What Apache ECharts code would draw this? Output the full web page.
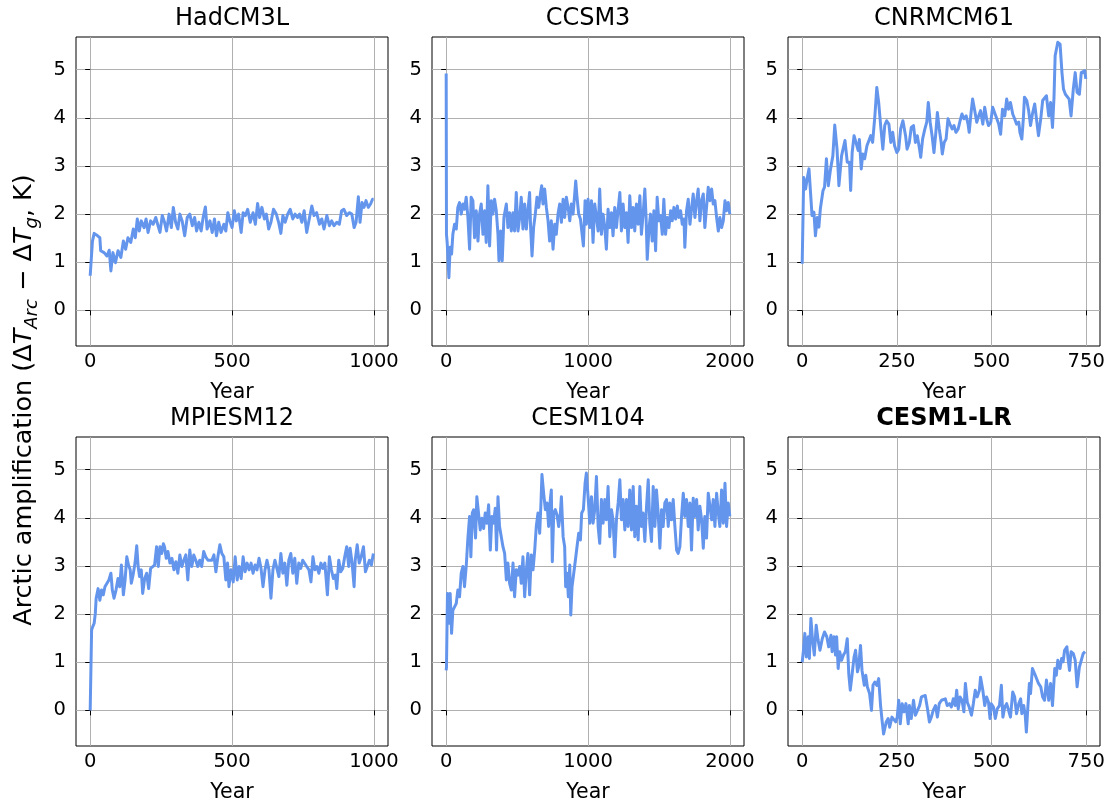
<!DOCTYPE html>
<html>
<head>
<meta charset="utf-8">
<script src="https://cdn.jsdelivr.net/npm/echarts@6/dist/echarts.min.js"></script>
<style>
html,body{margin:0;padding:0;background:#fff;}
#chart{width:1113px;height:805px;}
</style>
</head>
<body>
<div id="chart"></div>
<script>
// ---------- data (year, Arctic amplification) ----------
const modelNames = ['HadCM3L', 'CCSM3', 'CNRMCM61', 'MPIESM12', 'CESM104', 'CESM1-LR'];
const yTicks = [0, 1, 2, 3, 4, 5];
const xTicks1000 = [0, 500, 1000];
const xTicks2000 = [0, 1000, 2000];
const xTicks750 = [0, 250, 500, 750];

const hadcm3l = [[0,0.72],[8,1.44],[14,1.6],[26,1.55],[34,1.51],[37,1.24],[49,1.2],[59,1.13],[67,1.25],[73,0.82],[80,1.2],[89,0.99],[98,1.24],[108,1.1],[117,1.44],[125,1.27],[133,1.51],[143,1.41],[152,1.69],[159,1.51],[166,1.9],[173,1.65],[180,1.86],[190,1.72],[197,1.9],[204,1.62],[213,1.86],[222,1.79],[231,1.93],[239,1.76],[246,1.62],[254,1.97],[262,1.83],[269,1.65],[278,2.0],[286,1.72],[293,2.14],[301,1.83],[309,1.69],[316,2.0],[324,1.86],[333,1.55],[342,1.93],[351,2.0],[360,1.76],[368,1.93],[375,1.65],[383,1.83],[391,1.65],[398,1.93],[406,2.15],[412,1.69],[422,1.86],[430,1.62],[438,1.9],[445,1.55],[453,1.83],[461,1.62],[471,1.79],[478,1.65],[485,2.03],[492,1.86],[500,1.72],[508,2.07],[515,1.86],[523,2.0],[532,1.62],[539,2.03],[547,1.97],[555,2.1],[564,1.83],[574,2.03],[582,1.79],[590,2.22],[597,1.93],[605,2.14],[614,1.9],[621,2.0],[629,1.69],[637,1.83],[646,2.1],[656,2.0],[664,1.83],[672,1.6],[679,1.97],[687,1.83],[696,2.0],[705,2.1],[714,1.9],[722,2.0],[731,1.93],[738,2.0],[746,1.83],[754,2.07],[763,1.62],[773,1.93],[781,2.17],[789,1.97],[798,2.03],[808,1.79],[816,1.9],[824,1.69],[834,1.97],[843,1.76],[851,1.86],[859,1.76],[869,1.83],[878,1.79],[886,2.07],[894,2.1],[904,1.97],[913,2.03],[922,2.0],[930,1.72],[937,1.83],[945,2.36],[951,1.83],[958,2.24],[965,2.14],[972,2.28],[980,2.14],[988,2.21],[995,2.31],[999,2.31]];

const ccsm3 = [[0,4.92],[2,1.58],[7,1.41],[19,0.68],[28,1.31],[38,1.17],[47,1.58],[59,1.79],[71,1.69],[82,2.14],[94,2.24],[106,2.0],[118,2.21],[129,2.1],[141,2.35],[153,1.93],[165,1.27],[176,2.35],[188,2.28],[200,1.51],[212,2.07],[224,1.44],[235,2.0],[247,2.21],[259,1.58],[271,2.07],[282,1.41],[294,2.59],[306,1.34],[318,2.28],[329,2.0],[341,2.31],[353,2.07],[365,1.58],[372,1.03],[384,1.65],[395,1.03],[407,1.93],[424,2.21],[435,1.72],[447,2.03],[459,1.65],[471,2.03],[482,1.65],[494,2.45],[506,1.65],[518,1.93],[529,2.35],[541,1.69],[553,2.21],[565,1.69],[576,2.07],[588,2.45],[595,1.72],[605,1.13],[616,1.72],[628,2.0],[640,2.35],[652,2.14],[664,2.42],[673,2.59],[682,2.21],[694,2.52],[706,2.14],[718,1.86],[729,1.44],[741,1.86],[753,1.27],[765,1.79],[776,1.58],[788,2.0],[800,2.21],[812,1.83],[824,2.31],[835,1.93],[847,2.35],[859,2.14],[871,1.86],[882,2.21],[894,2.0],[906,2.42],[913,2.69],[922,2.35],[934,2.0],[946,1.9],[958,1.86],[967,1.34],[979,2.28],[988,1.79],[1000,2.31],[1012,1.72],[1024,2.28],[1035,1.41],[1047,2.21],[1059,1.93],[1071,1.65],[1082,2.52],[1094,1.58],[1106,2.0],[1118,1.72],[1129,1.27],[1141,2.1],[1153,1.72],[1165,2.03],[1176,1.55],[1188,2.14],[1200,1.72],[1212,2.1],[1224,2.45],[1235,1.65],[1247,2.21],[1259,1.72],[1271,2.03],[1282,1.41],[1294,2.38],[1306,1.72],[1318,2.14],[1329,1.65],[1341,2.21],[1353,1.79],[1365,2.38],[1376,1.58],[1388,2.0],[1400,2.52],[1409,1.93],[1417,1.06],[1429,1.69],[1440,2.0],[1452,1.44],[1464,2.07],[1476,1.24],[1487,2.35],[1499,1.86],[1511,1.97],[1523,1.58],[1534,2.31],[1546,1.58],[1558,1.93],[1570,1.72],[1582,2.07],[1593,1.86],[1605,2.14],[1617,1.9],[1629,2.17],[1640,1.93],[1652,2.07],[1664,1.79],[1676,1.9],[1682,1.31],[1694,2.07],[1706,2.31],[1718,1.79],[1729,2.1],[1741,2.42],[1753,1.93],[1765,2.28],[1776,2.52],[1788,1.86],[1800,2.28],[1812,2.42],[1823,1.72],[1835,2.14],[1847,2.56],[1859,2.28],[1871,2.52],[1882,2.21],[1894,2.28],[1906,1.93],[1918,1.65],[1929,1.93],[1941,1.72],[1953,1.86],[1965,2.28],[1976,2.07],[1988,2.24],[1999,2.0]];

const cnrmcm61 = [[0,0.97],[4,2.76],[9,2.52],[13,2.73],[18,2.94],[22,2.45],[26,1.97],[31,2.04],[35,1.55],[40,1.93],[44,1.73],[48,2.11],[55,2.49],[59,2.56],[64,3.15],[69,2.59],[75,2.94],[81,3.21],[86,3.85],[92,3.35],[97,2.59],[104,3.21],[107,3.32],[113,3.53],[119,3.08],[125,3.08],[128,2.49],[132,3.28],[137,3.63],[142,3.6],[148,3.32],[151,3.55],[156,2.94],[160,3.25],[165,3.15],[171,3.42],[176,3.39],[181,3.63],[186,3.49],[192,4.04],[197,4.63],[202,4.32],[208,3.77],[213,3.35],[218,3.84],[223,3.94],[229,3.87],[234,3.49],[239,3.7],[244,3.42],[250,3.28],[255,3.35],[260,3.77],[266,3.94],[273,3.63],[277,3.35],[283,3.49],[288,3.8],[294,3.84],[299,3.49],[304,3.63],[310,3.35],[313,3.18],[318,3.56],[324,3.77],[329,3.91],[333,4.32],[338,3.91],[343,3.63],[348,3.28],[353,3.7],[357,4.11],[362,3.77],[367,3.49],[370,3.25],[375,3.49],[380,3.56],[385,3.98],[390,3.87],[396,3.77],[401,3.84],[406,3.7],[412,3.77],[417,3.94],[422,4.08],[427,3.98],[433,4.04],[438,3.87],[441,3.7],[446,4.11],[450,4.39],[455,4.18],[461,3.91],[466,4.04],[471,4.15],[477,3.87],[482,4.22],[487,3.98],[492,3.84],[498,3.91],[503,4.22],[508,4.11],[514,3.98],[519,3.87],[524,3.66],[529,4.18],[535,4.04],[540,4.39],[545,4.18],[550,4.32],[556,4.08],[561,3.98],[566,3.87],[572,3.91],[575,3.7],[580,3.56],[584,3.98],[587,4.43],[593,4.36],[598,4.15],[603,3.84],[608,4.08],[614,4.29],[619,4.32],[624,3.63],[630,3.98],[635,4.36],[640,4.39],[645,4.46],[651,4.04],[656,4.32],[661,3.8],[665,4.43],[668,5.29],[673,5.33],[675,5.57],[681,5.53],[686,4.94],[690,4.6],[695,4.49],[700,4.53],[705,4.39],[710,4.04],[716,4.6],[721,4.94],[726,4.53],[732,4.49],[737,4.94],[742,4.91],[746,4.98],[749,4.81]];

const mpiesm12 = [[0,0.0],[5,1.67],[9,1.74],[14,1.81],[18,2.01],[21,2.33],[28,2.53],[34,2.29],[40,2.5],[46,2.4],[52,2.57],[59,2.57],[66,2.71],[73,2.85],[78,2.5],[84,2.33],[91,2.5],[98,2.74],[104,2.57],[110,3.02],[117,2.4],[123,2.71],[129,3.19],[135,3.02],[141,2.92],[145,2.64],[151,2.81],[158,3.06],[164,3.42],[169,2.99],[174,2.78],[180,2.92],[185,2.43],[192,2.74],[199,2.85],[206,2.53],[213,2.95],[220,2.99],[227,3.02],[234,3.4],[240,2.99],[246,3.4],[252,3.26],[258,3.46],[262,3.4],[268,3.16],[274,3.3],[281,3.06],[288,3.16],[295,2.92],[302,3.09],[309,2.85],[316,3.23],[323,2.99],[330,3.12],[337,3.23],[344,2.71],[351,3.33],[358,2.99],[365,3.23],[372,3.12],[379,2.99],[386,3.12],[393,2.99],[400,3.3],[407,3.19],[415,3.12],[422,3.09],[429,3.12],[436,3.23],[443,2.88],[450,3.19],[457,3.44],[464,3.26],[471,3.19],[478,2.71],[484,3.06],[489,2.57],[496,2.92],[504,2.67],[511,3.19],[518,2.71],[525,2.99],[532,2.74],[539,3.19],[546,2.88],[553,3.06],[560,2.92],[567,3.06],[574,2.85],[581,3.02],[588,2.92],[595,3.16],[602,2.95],[609,2.57],[616,2.92],[623,3.12],[630,2.92],[637,2.33],[644,2.92],[651,3.12],[658,2.95],[665,2.78],[672,3.26],[679,2.85],[686,3.06],[693,2.6],[700,3.12],[707,3.26],[714,2.85],[721,3.16],[728,2.64],[735,3.06],[742,2.95],[749,3.12],[756,3.09],[763,2.99],[771,2.92],[778,2.67],[785,3.19],[792,2.92],[799,2.99],[806,2.85],[813,3.06],[820,2.95],[827,3.06],[831,3.09],[836,2.4],[843,3.19],[850,2.92],[857,2.74],[864,2.81],[869,2.53],[876,3.12],[883,2.88],[890,2.95],[897,3.19],[904,3.4],[911,2.99],[916,3.37],[923,3.06],[930,2.57],[934,3.12],[941,3.44],[948,3.06],[955,3.19],[963,3.4],[970,2.88],[977,2.92],[984,3.12],[991,3.02],[998,3.26]];

const cesm104 = [[0,0.83],[2,0.9],[9,2.43],[19,1.81],[28,2.43],[38,1.6],[47,2.08],[59,2.15],[71,2.22],[82,2.5],[94,2.36],[106,2.85],[118,2.99],[129,2.57],[141,2.99],[153,3.58],[165,4.03],[174,3.19],[184,4.1],[193,4.17],[207,3.58],[216,4.44],[228,4.44],[240,3.75],[252,3.99],[264,3.78],[275,4.1],[287,3.89],[299,4.27],[311,3.33],[322,4.03],[334,3.89],[346,4.2],[355,3.33],[365,4.44],[376,3.82],[388,3.85],[400,3.4],[412,3.26],[424,2.71],[435,3.06],[447,2.64],[459,2.5],[471,3.06],[482,2.36],[494,2.92],[506,2.81],[518,2.99],[529,2.64],[541,3.19],[553,2.36],[565,2.92],[576,3.26],[588,2.4],[600,3.23],[612,2.92],[624,3.33],[635,3.82],[647,4.1],[659,3.68],[668,4.31],[675,4.9],[687,4.51],[699,4.17],[711,4.31],[722,3.82],[734,4.38],[741,4.58],[748,3.09],[758,4.1],[769,4.17],[781,4.06],[793,3.82],[805,4.1],[812,4.44],[824,3.61],[835,3.4],[842,2.57],[852,2.85],[861,2.36],[871,3.02],[878,1.98],[887,2.57],[899,2.85],[911,3.13],[922,3.4],[934,3.68],[946,3.54],[955,4.1],[967,4.17],[979,4.72],[988,4.93],[1000,4.44],[1012,3.89],[1024,4.44],[1035,3.89],[1047,4.17],[1059,4.86],[1071,3.82],[1082,3.47],[1094,4.38],[1106,3.89],[1118,4.38],[1129,3.96],[1141,4.65],[1153,3.61],[1165,4.17],[1176,3.96],[1188,3.19],[1200,3.96],[1212,4.31],[1224,4.79],[1235,3.96],[1247,4.38],[1259,3.75],[1271,4.38],[1282,3.82],[1294,4.58],[1306,3.75],[1318,4.65],[1329,3.61],[1341,4.24],[1353,3.54],[1365,4.65],[1376,3.82],[1388,4.1],[1400,3.51],[1412,4.24],[1424,4.79],[1435,3.89],[1447,3.51],[1459,4.65],[1471,3.82],[1482,4.58],[1494,4.1],[1506,3.37],[1518,4.17],[1529,3.82],[1541,4.31],[1553,4.38],[1565,3.82],[1576,4.31],[1588,3.96],[1600,4.38],[1612,3.82],[1624,3.33],[1635,3.26],[1647,3.4],[1659,4.03],[1671,4.51],[1682,4.03],[1694,4.38],[1706,3.82],[1718,4.31],[1729,3.33],[1741,4.41],[1753,4.03],[1765,4.38],[1776,3.75],[1788,4.24],[1800,3.96],[1812,3.37],[1823,4.03],[1835,3.58],[1847,4.51],[1859,4.24],[1871,3.96],[1882,4.38],[1894,3.82],[1906,4.51],[1918,4.1],[1929,3.82],[1941,4.58],[1953,3.89],[1965,4.72],[1976,3.82],[1988,4.31],[1999,4.03]];

const cesm1lr = [[0,1.0],[3,1.22],[7,1.6],[11,1.11],[16,1.53],[19,1.08],[23,1.91],[27,1.49],[32,1.15],[37,1.77],[42,1.46],[47,1.25],[53,1.49],[59,1.63],[65,1.53],[70,1.32],[76,1.56],[79,1.22],[84,1.53],[88,1.15],[91,1.53],[95,0.87],[99,1.22],[104,1.04],[109,1.15],[114,1.22],[119,1.49],[123,0.76],[127,0.42],[132,0.76],[137,1.11],[141,1.25],[146,0.8],[149,0.9],[154,1.35],[158,0.83],[164,0.52],[168,0.73],[172,0.49],[178,0.35],[183,0.0],[187,0.52],[192,0.59],[197,0.52],[202,0.66],[207,0.1],[211,-0.21],[215,-0.49],[222,-0.24],[227,-0.17],[231,-0.35],[237,-0.14],[242,-0.1],[247,-0.24],[251,-0.14],[255,0.21],[259,-0.28],[264,0.14],[269,-0.03],[274,0.14],[280,-0.28],[283,0.1],[288,-0.17],[294,0.21],[299,-0.1],[304,-0.07],[310,0.1],[315,0.28],[320,0.24],[325,0.31],[331,0.03],[336,-0.24],[341,-0.14],[346,0.0],[352,0.1],[357,-0.14],[362,0.14],[368,0.21],[373,0.17],[378,0.24],[383,0.1],[389,0.14],[394,0.07],[399,0.24],[404,0.1],[408,0.42],[412,0.03],[417,0.28],[422,0.21],[427,-0.03],[431,0.56],[436,0.17],[441,0.07],[447,-0.1],[452,0.14],[457,0.42],[462,0.28],[468,0.42],[471,0.69],[477,0.42],[482,0.1],[487,0.28],[492,0.17],[496,-0.17],[499,0.14],[505,0.07],[510,-0.17],[515,0.03],[521,0.1],[526,0.52],[530,-0.14],[535,0.07],[540,0.14],[545,0.1],[550,-0.14],[556,0.38],[561,0.28],[566,-0.07],[572,0.14],[577,0.24],[580,-0.07],[585,0.1],[589,-0.1],[592,-0.45],[596,0.07],[600,0.56],[603,0.35],[608,0.87],[614,0.76],[619,0.8],[624,0.56],[630,0.49],[635,0.28],[640,0.21],[645,0.63],[651,0.21],[656,0.56],[661,0.1],[667,0.87],[671,0.73],[675,1.04],[681,0.87],[685,1.08],[689,1.01],[693,1.25],[699,1.32],[702,1.08],[706,0.83],[710,1.22],[716,1.18],[721,1.04],[726,0.49],[732,0.9],[737,1.04],[742,1.18],[747,1.22]];

const seriesData = [hadcm3l, ccsm3, cnrmcm61, mpiesm12, cesm104, cesm1lr];
const xTickSets = [xTicks1000, xTicks2000, xTicks750, xTicks1000, xTicks2000, xTicks750];
const xRanges = [[-50, 1049.5], [-100, 2099], [-37.45, 786.45], [-50, 1049.5], [-100, 2099], [-37.45, 786.45]];
const yRange = [-0.74, 5.68];

// ---------- layout ----------
const FONT = 'DejaVu Sans';
const colLeft = [76, 432, 788];
const rowTop = [37, 437];
const boxW = 312, boxH = 309;
const plain = v => String(v);

const grids = [], xAxes = [], yAxes = [], series = [], graphics = [];
for (let i = 0; i < 6; i++) {
  const c = i % 3, r = Math.floor(i / 3);
  grids.push({
    left: colLeft[c], top: rowTop[r], width: boxW, height: boxH,
    show: true, borderColor: '#000', borderWidth: 1, backgroundColor: 'transparent'
  });
  xAxes.push({
    type: 'value', gridIndex: i, min: xRanges[i][0], max: xRanges[i][1],
    name: 'Year', nameLocation: 'middle', nameGap: 36,
    nameTextStyle: { fontSize: 20.5, fontFamily: FONT, color: '#000' },
    axisLine: { show: false },
    axisTick: { show: true, inside: false, length: 5, lineStyle: { color: '#000', width: 1 }, customValues: xTickSets[i] },
    axisLabel: { fontSize: 19.5, fontFamily: FONT, color: '#000', margin: 6, customValues: xTickSets[i], formatter: plain },
    splitLine: { show: true, lineStyle: { color: '#b0b0b0', width: 1 } }
  });
  yAxes.push({
    type: 'value', gridIndex: i, min: yRange[0], max: yRange[1],
    axisLine: { show: false },
    axisTick: { show: true, inside: false, length: 5, lineStyle: { color: '#000', width: 1 }, customValues: yTicks },
    axisLabel: { fontSize: 19.5, fontFamily: FONT, color: '#000', margin: 10, customValues: yTicks, formatter: plain },
    splitLine: { show: true, lineStyle: { color: '#b0b0b0', width: 1 } }
  });
  series.push({
    type: 'line', xAxisIndex: i, yAxisIndex: i, data: seriesData[i],
    showSymbol: false, symbol: 'none', smooth: false,
    lineStyle: { color: '#6495ED', width: 3, join: 'round' }, z: 3
  });
  graphics.push({
    type: 'text', x: colLeft[c] + boxW / 2, y: rowTop[r] - 18,
    style: {
      text: modelNames[i], fill: '#000', fontSize: 24, fontFamily: FONT,
      fontWeight: i === 5 ? 'bold' : 'normal', align: 'center', verticalAlign: 'middle'
    }
  });
}

graphics.push({
  type: 'text', x: 24, y: 400, rotation: Math.PI / 2,
  style: {
    text: '{n|Arctic amplification (Δ}{i|T}{s|Arc}{n| − Δ}{i|T}{s|g}{n|, K)}',
    fill: '#000', fontSize: 25.5, fontFamily: FONT, align: 'center', verticalAlign: 'middle',
    rich: {
      n: { fontSize: 25.5, fontFamily: FONT, lineHeight: 34, verticalAlign: 'middle', fill: '#000' },
      i: { fontSize: 25.5, fontFamily: FONT, fontStyle: 'italic', lineHeight: 34, verticalAlign: 'middle', fill: '#000' },
      s: { fontSize: 18, fontFamily: FONT, fontStyle: 'italic', lineHeight: 18, verticalAlign: 'bottom', fill: '#000' }
    }
  }
});

const chart = echarts.init(document.getElementById('chart'), null, { renderer: 'canvas' });
chart.setOption({
  animation: false,
  backgroundColor: '#fff',
  grid: grids,
  xAxis: xAxes,
  yAxis: yAxes,
  series: series,
  graphic: graphics
});
</script>
</body>
</html>
